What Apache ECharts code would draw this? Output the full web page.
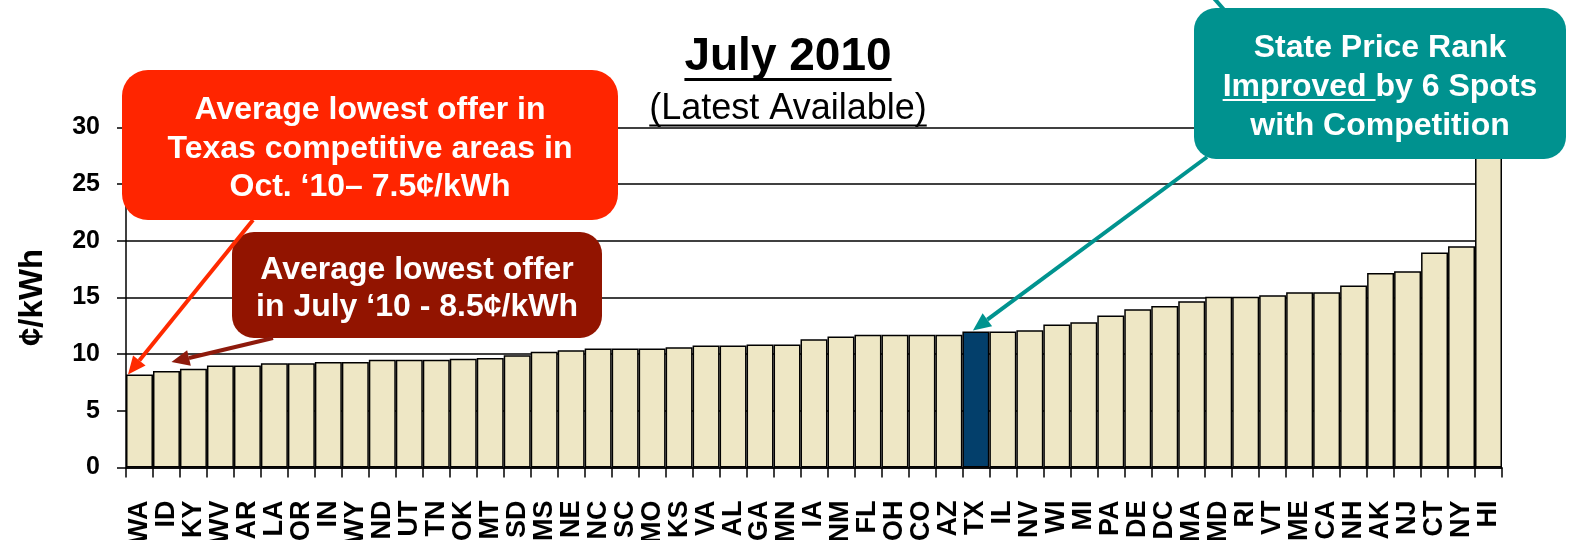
<!DOCTYPE html>
<html>
<head>
<meta charset="utf-8">
<script src="https://cdn.jsdelivr.net/npm/echarts@6/dist/echarts.min.js"></script>
<style>
  html, body { margin: 0; padding: 0; background: #fff; }
  #chart { width: 1570px; height: 540px; }
</style>
</head>
<body>
<div id="chart"></div>
<script>
// residential price per state, July 2010 (cents/kWh), sorted low -> high
const states = ['WA','ID','KY','WV','AR','LA','OR','IN','WY','ND','UT','TN','OK','MT','SD','MS','NE','NC','SC','MO',
  'KS','VA','AL','GA','MN','IA','NM','FL','OH','CO','AZ','TX','IL','NV','WI','MI','PA','DE','DC','MA',
  'MD','RI','VT','ME','CA','NH','AK','NJ','CT','NY','HI'];
const prices = [8.2, 8.5, 8.7, 9.0, 9.0, 9.2, 9.2, 9.3, 9.3, 9.5, 9.5, 9.5, 9.6, 9.65, 9.9, 10.2, 10.35, 10.5, 10.5, 10.5,
  10.6, 10.75, 10.75, 10.85, 10.85, 11.3, 11.55, 11.7, 11.7, 11.7, 11.7, 12.0, 12.0, 12.1, 12.6, 12.8, 13.4, 13.95, 14.25, 14.65,
  15.05, 15.05, 15.2, 15.45, 15.45, 16.05, 17.15, 17.3, 18.95, 19.5, 29];
const yMin = 0, yMax = 30, yStep = 5;
const highlightState = 'TX';

const FONT = '"Liberation Sans", Arial, sans-serif';
const colors = {
  bar: '#EEE7C5',
  tx: '#033F6B',
  red: '#FF2500',
  darkRed: '#921400',
  teal: '#00928F'
};

const measure = document.createElement('canvas').getContext('2d');
function textWidth(str, font) {
  measure.font = font;
  return measure.measureText(str).width;
}

const chart = echarts.init(document.getElementById('chart'));

chart.setOption({
  animation: false,
  title: [
    {
      text: 'July 2010',
      left: 788, top: 34, textAlign: 'center', padding: 0,
      textStyle: { fontFamily: FONT, fontSize: 46, fontWeight: 'bold', color: '#000' }
    },
    {
      text: '(Latest Available)',
      left: 788, top: 91, textAlign: 'center', padding: 0,
      textStyle: { fontFamily: FONT, fontSize: 36, fontWeight: 'normal', color: '#000' }
    }
  ],
  grid: { left: 126, right: 68, top: 127.3, bottom: 72.5, containLabel: false, outerBoundsMode: 'none' },
  xAxis: {
    type: 'category',
    data: states,
    axisLine: { lineStyle: { color: '#000', width: 1.5 } },
    axisTick: { show: true, length: 10, lineStyle: { color: '#000', width: 1.5 } },
    axisLabel: {
      interval: 0, rotate: 90, margin: 33,
      fontFamily: FONT, fontSize: 27, fontWeight: 'bold', color: '#000'
    }
  },
  yAxis: {
    type: 'value',
    min: yMin, max: yMax, interval: yStep,
    name: '¢/kWh',
    nameLocation: 'middle',
    nameRotate: 90,
    nameGap: 77,
    nameTextStyle: { fontFamily: FONT, fontSize: 33, fontWeight: 'bold', color: '#000' },
    axisLine: { show: true, lineStyle: { color: '#000', width: 1.5 } },
    axisTick: { show: true, length: 9, lineStyle: { color: '#000', width: 1.5 } },
    axisLabel: { margin: 26, fontFamily: FONT, fontSize: 25, fontWeight: 'bold', color: '#000' },
    splitLine: { show: true, lineStyle: { color: '#000', width: 1.5 } }
  },
  series: [{
    type: 'bar',
    barCategoryGap: '0%',
    itemStyle: { color: colors.bar, borderColor: '#000', borderWidth: 1.5 },
    data: prices.map((v, i) => states[i] === highlightState
      ? { value: v, itemStyle: { color: colors.tx } }
      : v)
  }]
});

// ---- callouts (boxes + arrows) ----
function arrow(from, to, color, w) {
  const dx = to[0] - from[0], dy = to[1] - from[1];
  const len = Math.sqrt(dx * dx + dy * dy);
  const ux = dx / len, uy = dy / len;
  const hl = 18, hw = 8;
  const bx = to[0] - ux * hl, by = to[1] - uy * hl;
  return [
    { type: 'line', z: 100, shape: { x1: from[0], y1: from[1], x2: bx, y2: by },
      style: { stroke: color, lineWidth: w } },
    { type: 'polygon', z: 100,
      shape: { points: [to, [bx - uy * hw, by + ux * hw], [bx + uy * hw, by - ux * hw]] },
      style: { fill: color } }
  ];
}

function box(x, y, w, h, r, fill, lines, lh) {
  return [
    { type: 'rect', z: 90, shape: { x: x, y: y, width: w, height: h, r: r }, style: { fill: fill } },
    { type: 'text', z: 95, x: x + w / 2, y: y + h / 2 + 4,
      style: { text: lines.join('\n'), fill: '#fff', align: 'center', verticalAlign: 'middle',
        font: 'bold 32px ' + FONT, lineHeight: lh } }
  ];
}

const px = (state, v) => chart.convertToPixel({ seriesIndex: 0 }, [state, v]);
const band = px(states[1], 0)[0] - px(states[0], 0)[0];
const waTop = px('WA', prices[0]);
const idTop = px('ID', prices[1]);
const txTop = px(highlightState, prices[states.indexOf(highlightState)]);

const titleFont = 'bold 46px ' + FONT;
const subFont = '36px ' + FONT;
const tW = textWidth('July 2010', titleFont);
const sW = textWidth('(Latest Available)', subFont);

const tealLine2 = 'Improved by 6 Spots';
const tealW = textWidth(tealLine2, 'bold 32px ' + FONT);
const impW = textWidth('Improved ', 'bold 32px ' + FONT);
const tealCx = 1194 + 372 / 2;

const elements = [].concat(
  // underlines of the titles
  [{ type: 'line', shape: { x1: 788 - tW / 2, y1: 79.5, x2: 788 + tW / 2, y2: 79.5 }, style: { stroke: '#000', lineWidth: 3 } },
   { type: 'line', shape: { x1: 788 - sW / 2, y1: 125.5, x2: 788 + sW / 2, y2: 125.5 }, style: { stroke: '#000', lineWidth: 2 } }],
  box(122, 70, 496, 150, 26, colors.red,
    ['Average lowest offer in', 'Texas competitive areas in', 'Oct. \u201810\u2013 7.5\u00a2/kWh'], 38.5),
  box(232, 232, 370, 106, 22, colors.darkRed,
    ['Average lowest offer', 'in July \u201810 - 8.5\u00a2/kWh'], 37),
  box(1194, 8, 372, 151, 22, colors.teal,
    ['State Price Rank', tealLine2, 'with Competition'], 39),
  [{ type: 'line', z: 96, shape: { x1: tealCx - tealW / 2, y1: 100, x2: tealCx - tealW / 2 + impW, y2: 100 },
     style: { stroke: '#fff', lineWidth: 2 } },
   { type: 'line', z: 89, shape: { x1: 1212, y1: -4, x2: 1226, y2: 12 }, style: { stroke: colors.teal, lineWidth: 4 } }],
  arrow([273, 338], [idTop[0] + 5, idTop[1] - 9], '#8E1A0C', 4),
  arrow([253, 220], [waTop[0] - band / 2 + 2, waTop[1]], '#FF2A00', 4),
  arrow([1207, 157], [txTop[0] - 3, txTop[1] - 1], '#00938F', 4)
);

chart.setOption({ graphic: { elements: elements } });
</script>
</body>
</html>
